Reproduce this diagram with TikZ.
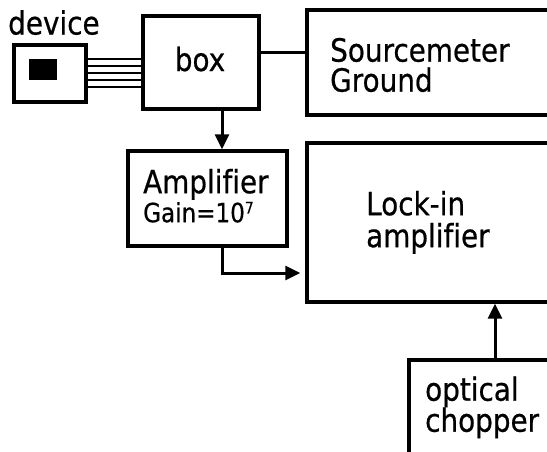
\documentclass[tikz,border=0pt]{standalone}
\usepackage{fontspec}
\setmainfont{DejaVu Sans}[FakeStretch=0.87,FakeBold=0.6,Ligatures=NoCommon]
\usetikzlibrary{arrows.meta}
\newcommand{\bigtxt}[1]{\fontsize{32}{#1}\selectfont\lineskiplimit=-50pt\relax}
\begin{document}
\begin{tikzpicture}[x=1pt,y=-1pt,
  blk/.style={draw=black,line width=3.4pt,rectangle,inner sep=0pt,minimum width=#1},
  lbl/.style={anchor=north west,inner sep=0pt,align=left,font=\bigtxt{#1}},
  lblc/.style={anchor=base,inner sep=0pt,font=\bigtxt{40}},
  conn/.style={line width=3pt},
  arr/.style={line width=3pt,-{Triangle[length=15pt,width=14pt]}},
  wire/.style={line width=2.8pt}]
\useasboundingbox (0,0) rectangle (547,451);
\clip (0,0) rectangle (547,451);
% boxes
\node[blk=72pt,minimum height=57pt] (device) at (50,73.5) {};
\node[fill=black,inner sep=0pt,minimum width=28pt,minimum height=21pt] (chip) at (43,69.5) {};
\node[blk=116pt,minimum height=93pt] (box) at (201,62.5) {};
\node[blk=293pt,minimum height=105pt] (src) at (453.5,62.5) {};
\node[blk=293pt,minimum height=159pt] (lockin) at (453.5,222.5) {};
\node[blk=159pt,minimum height=95pt] (amp) at (207.5,198.5) {};
\node[blk=200pt,minimum height=120pt] (chop) at (509,420) {};
% texts (north west anchor = first baseline minus 0.76*32pt)
\node[anchor=base west,inner sep=0pt,font=\bigtxt{40}] (tdev) at (8,34.5) {device};
\node[lblc] (tbox) at (200,71) {box};
\node[lbl=30] (tsrc) at (330,37.7) {Sourcemeter\\Ground};
\node[lbl=32] (tlock) at (366,190.7) {Lock-in\\amplifier};
\node[lbl=29] (tamp) at (143,168.7) {Amplifier\\{\fontsize{26.5}{29}\selectfont Gain=10\raisebox{0.33em}{\fontsize{16}{20}\selectfont 7}}};
\node[lbl=31] (tchop) at (425,376.2) {optical\\chopper};
% helper coordinates
\coordinate (ysrc) at (0,52);
\coordinate (xa) at (222,0);
\coordinate (ya) at (0,273);
\coordinate (xc) at (495,0);
% connectors
\foreach \y in {59,66,73,80,87} {
  \coordinate (w) at (0,\y);
  \draw[wire] (device.east |- w) -- (box.west |- w);
}
\draw[conn] (box.east |- ysrc) -- (src.west |- ysrc);
\draw[arr] (box.south -| xa) -- (amp.north -| xa);
\draw[arr,shorten >=5pt] (amp.south -| xa) |- (lockin.west |- ya);
\draw[arr] (chop.north -| xc) -- (lockin.south -| xc);
\end{tikzpicture}
\end{document}
